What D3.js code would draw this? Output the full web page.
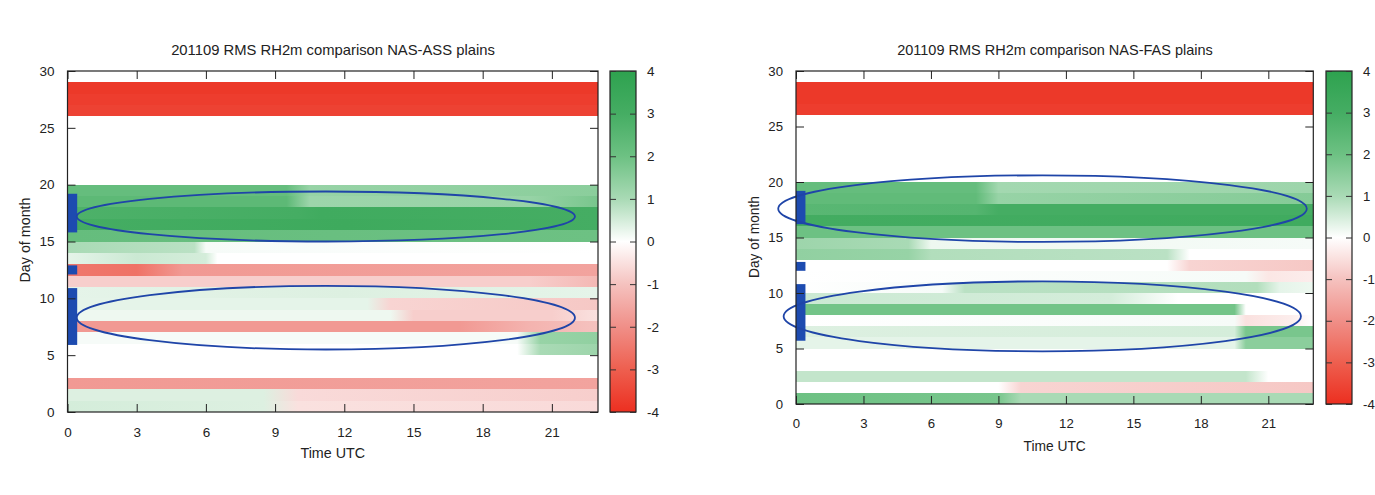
<!DOCTYPE html>
<html>
<head>
<meta charset="utf-8">
<script src="https://cdn.jsdelivr.net/npm/d3@7"></script>
<style>
  html, body { margin: 0; padding: 0; background: #fff; overflow: hidden; }
  svg { display: block; }
  text { font-family: "Liberation Sans", Arial, Helvetica, sans-serif; fill: #222; }
</style>
</head>
<body>
<svg id="chart" width="1375" height="495"></svg>
<script>
// tick labels
var hourTicks = [0, 3, 6, 9, 12, 15, 18, 21];
var dayTicks = [0, 5, 10, 15, 20, 25, 30];
var cbTicks = [-4, -3, -2, -1, 0, 1, 2, 3, 4];

var titles = ["201109 RMS RH2m comparison NAS-ASS plains", "201109 RMS RH2m comparison NAS-FAS plains"];

// each row = one day (cell from day to day+1), values read as [hour, value] along the row
var assRows = [
  {day: 28, v: [[0, -3.8], [23, -3.8]]},
  {day: 27, v: [[0, -3.7], [23, -3.7]]},
  {day: 26, v: [[0, -3.6], [23, -3.6]]},
  {day: 19, v: [[0, 2.2], [9.5, 2.2], [10.5, 1.3], [23, 1.5]]},
  {day: 18, v: [[0, 2.4], [9.5, 2.4], [10.5, 1.2], [20, 1.3], [23, 1.8]]},
  {day: 17, v: [[0, 2.8], [10, 3.0], [11, 3.2], [23, 3.0]]},
  {day: 16, v: [[0, 3.0], [12, 3.3], [23, 3.0]]},
  {day: 15, v: [[0, 2.2], [23, 2.0]]},
  {day: 14, v: [[0, 1.0], [5.5, 0.8], [6, 0.1], [23, 0]]},
  {day: 13, v: [[0, 0.3], [3, 0.6], [6, 0.5], [6.5, 0], [23, 0]]},
  {day: 12, v: [[0, -2.5], [3, -2.6], [5, -1.8], [23, -1.6]]},
  {day: 11, v: [[0, -0.8], [20, -0.8], [23, -1.2]]},
  {day: 10, v: [[0, 0.3], [12, 0.4], [23, 0.3]]},
  {day: 9, v: [[0, 0.3], [13, 0.3], [14, -0.7], [23, -0.9]]},
  {day: 8, v: [[0, 0.2], [14, 0.2], [15, -0.8], [21, -0.8], [23, -0.5]]},
  {day: 7, v: [[0, -1.8], [17, -1.8], [20, -1.3], [23, -1.0]]},
  {day: 6, v: [[0, 0.1], [19.5, 0.1], [20.5, 1.3], [23, 1.4]]},
  {day: 5, v: [[0, 0], [19.5, 0], [20.5, 1.0], [23, 1.2]]},
  {day: 2, v: [[0, -1.8], [23, -1.6]]},
  {day: 1, v: [[0, 0.4], [8.5, 0.4], [10, -0.6], [23, -0.8]]},
  {day: 0, v: [[0, 0.5], [8.5, 0.4], [10, -0.5], [23, -0.6]]}
];

var fasRows = [
  {day: 28, v: [[0, -3.8], [23, -3.8]]},
  {day: 27, v: [[0, -3.8], [23, -3.8]]},
  {day: 26, v: [[0, -3.7], [23, -3.7]]},
  {day: 19, v: [[0, 2.2], [8, 2.2], [9, 1.1], [23, 1.2]]},
  {day: 18, v: [[0, 2.3], [8, 2.3], [9, 1.3], [23, 1.6]]},
  {day: 17, v: [[0, 2.5], [8, 2.6], [9, 3.0], [23, 3.0]]},
  {day: 16, v: [[0, 3.1], [23, 3.2]]},
  {day: 15, v: [[0, 2.0], [23, 2.0]]},
  {day: 14, v: [[0, 1.2], [5, 1.0], [6, 0.2], [23, 0.1]]},
  {day: 13, v: [[0, 1.4], [5, 1.3], [6, 0.9], [16.5, 0.8], [17.5, 0], [23, 0]]},
  {day: 12, v: [[0, 0], [16.5, 0], [17.5, -0.7], [23, -0.9]]},
  {day: 11, v: [[0, 0], [20, 0.1], [21, -0.4], [23, -0.3]]},
  {day: 10, v: [[0, 0], [6.5, 0.1], [7.5, 0.8], [20.5, 0.9], [21.5, 0.3], [23, 0.2]]},
  {day: 9, v: [[0, 0.6], [14, 0.5], [17, 0], [23, 0]]},
  {day: 8, v: [[0, 1.9], [19.5, 1.9], [20, 0], [23, 0]]},
  {day: 7, v: [[0, 0], [19.5, 0.1], [20, -0.5], [22, -0.3], [23, 0]]},
  {day: 6, v: [[0, 0.4], [19.5, 0.5], [20, 1.8], [23, 1.8]]},
  {day: 5, v: [[0, 0.3], [19.5, 0.3], [20, 1.5], [23, 1.5]]},
  {day: 2, v: [[0, 0.7], [20, 0.7], [21, 0], [23, 0]]},
  {day: 1, v: [[0, 0], [9, 0], [10, -0.7], [23, -0.9]]},
  {day: 0, v: [[0, 2.0], [9, 1.8], [10, 1.0], [23, 1.0]]}
];

// highlight ellipses (hour/day units) and blue day markers [from, to]
var assEllipses = [{cx: 11.2, cy: 17.2, rx: 10.8, ry: 2.2}, {cx: 11.2, cy: 8.3, rx: 10.8, ry: 2.8}];
var fasEllipses = [{cx: 10.96, cy: 17.6, rx: 11.75, ry: 3.0}, {cx: 10.95, cy: 7.9, rx: 11.5, ry: 3.15}];
var assMarks = [[15.8, 19.2], [12.1, 12.9], [5.9, 10.9]];
var fasMarks = [[16.2, 19.2], [12.0, 12.8], [5.7, 10.8]];

var color = d3.scaleLinear()
  .domain([-4, -3, -2, -1, 0, 1, 2, 3, 4])
  .range(["#ec2f20", "#ee5f4f", "#f08f88", "#f5c2bf", "#ffffff", "#a9dab5", "#6dc183", "#45ad63", "#2ea24f"])
  .clamp(true);

var svg = d3.select("#chart");
var defs = svg.append("defs");

var panels = [
  {id: "ass", rows: assRows, ell: assEllipses, marks: assMarks, title: titles[0],
   x0: 67.5, x1: 598, y0: 71, y1: 412, cbX: 610, cbW: 26,
   titleX: 333, titleY: 55, xLabY: 458, yLabX: 30, yLabY: 240, fs: 13.5, fsLab: 14.3, fsTitle: 14.8},
  {id: "fas", rows: fasRows, ell: fasEllipses, marks: fasMarks, title: titles[1],
   x0: 796, x1: 1313.3, y0: 71, y1: 404, cbX: 1326, cbW: 26,
   titleX: 1055, titleY: 55, xLabY: 451, yLabX: 759, yLabY: 237, fs: 13.2, fsLab: 13.8, fsTitle: 14.5}
];

panels.forEach(renderPanel);

function renderPanel(p) {
  var x = d3.scaleLinear().domain([0, 23]).range([p.x0, p.x1]);
  var y = d3.scaleLinear().domain([0, 30]).range([p.y1, p.y0]);
  var g = svg.append("g").attr("class", "panel-" + p.id);

  // heatmap rows, smooth along the hour axis
  p.rows.forEach(function(r) {
    var gid = "grad-" + p.id + "-" + r.day;
    var lg = defs.append("linearGradient")
      .attr("id", gid)
      .attr("gradientUnits", "userSpaceOnUse")
      .attr("x1", x(0)).attr("x2", x(23))
      .attr("y1", 0).attr("y2", 0);
    r.v.forEach(function(s) {
      lg.append("stop")
        .attr("offset", (s[0] / 23))
        .attr("stop-color", color(s[1]));
    });
    g.append("rect")
      .attr("x", x(0))
      .attr("y", Math.round(y(r.day + 1)))
      .attr("width", x(23) - x(0))
      .attr("height", Math.round(y(r.day)) - Math.round(y(r.day + 1)))
      .attr("shape-rendering", "crispEdges")
      .attr("fill", "url(#" + gid + ")");
  });

  // blue day markers
  g.selectAll(".mark")
    .data(p.marks)
    .enter().append("rect")
    .attr("class", "mark")
    .attr("x", x(0))
    .attr("y", d => y(d[1]))
    .attr("width", x(0.42) - x(0))
    .attr("height", d => y(d[0]) - y(d[1]))
    .attr("fill", "#1d4bb0");

  // ellipses
  g.selectAll(".ell")
    .data(p.ell)
    .enter().append("ellipse")
    .attr("class", "ell")
    .attr("cx", d => x(d.cx))
    .attr("cy", d => y(d.cy))
    .attr("rx", d => x(d.rx) - x(0))
    .attr("ry", d => y(0) - y(d.ry))
    .attr("fill", "none")
    .attr("stroke", "#1f45a8")
    .attr("stroke-width", 1.8);

  // axes, gnuplot style ticks pointing inward
  var ax = g.append("g").attr("transform", `translate(0,${p.y1})`)
    .call(d3.axisBottom(x).tickValues(hourTicks).tickSize(-8).tickSizeOuter(0).tickPadding(15));
  var axTop = g.append("g").attr("transform", `translate(0,${p.y0})`)
    .call(d3.axisTop(x).tickValues(hourTicks).tickSize(-8).tickSizeOuter(0).tickFormat(""));
  var ay = g.append("g").attr("transform", `translate(${p.x0},0)`)
    .call(d3.axisLeft(y).tickValues(dayTicks).tickSize(-8).tickSizeOuter(0).tickPadding(13));
  var ayR = g.append("g").attr("transform", `translate(${p.x1},0)`)
    .call(d3.axisRight(y).tickValues(dayTicks).tickSize(-8).tickSizeOuter(0).tickFormat(""));

  [ax, axTop, ay, ayR].forEach(function(a) {
    a.select(".domain").remove();
    a.selectAll("line").attr("stroke", "#222").attr("stroke-width", 1);
    a.selectAll("text").style("font-size", p.fs + "px").attr("fill", "#222");
  });

  g.append("rect")
    .attr("x", p.x0).attr("y", p.y0)
    .attr("width", p.x1 - p.x0).attr("height", p.y1 - p.y0)
    .attr("fill", "none").attr("stroke", "#222").attr("stroke-width", 1.2);

  // colour box
  var cy = d3.scaleLinear().domain([-4, 4]).range([p.y1, p.y0]);
  var cbId = "cb-" + p.id;
  var cg = defs.append("linearGradient")
    .attr("id", cbId)
    .attr("x1", 0).attr("x2", 0).attr("y1", 1).attr("y2", 0);
  cbTicks.forEach(function(t) {
    cg.append("stop").attr("offset", (t + 4) / 8).attr("stop-color", color(t));
  });
  g.append("rect")
    .attr("x", p.cbX).attr("y", p.y0)
    .attr("width", p.cbW).attr("height", p.y1 - p.y0)
    .attr("fill", "url(#" + cbId + ")")
    .attr("stroke", "#222").attr("stroke-width", 1.2);

  var cbL = g.append("g").attr("transform", `translate(${p.cbX},0)`)
    .call(d3.axisLeft(cy).tickValues(cbTicks).tickSize(-6).tickSizeOuter(0).tickFormat(""));
  var cbR = g.append("g").attr("transform", `translate(${p.cbX + p.cbW},0)`)
    .call(d3.axisRight(cy).tickValues(cbTicks).tickSize(-6).tickSizeOuter(0).tickPadding(11)
      .tickFormat(d => d < 0 ? "-" + Math.abs(d) : d));
  [cbL, cbR].forEach(function(a) {
    a.select(".domain").remove();
    a.selectAll("line").attr("stroke", "#333").attr("stroke-width", 1);
    a.selectAll("text").style("font-size", p.fs + "px").attr("fill", "#222");
  });

  // titles and labels
  g.append("text")
    .attr("x", p.titleX).attr("y", p.titleY)
    .attr("text-anchor", "middle")
    .style("font-size", p.fsTitle + "px")
    .text(p.title);

  g.append("text")
    .attr("x", (p.x0 + p.x1) / 2).attr("y", p.xLabY)
    .attr("text-anchor", "middle")
    .style("font-size", p.fsLab + "px")
    .text("Time UTC");

  g.append("text")
    .attr("transform", `translate(${p.yLabX},${p.yLabY}) rotate(-90)`)
    .attr("text-anchor", "middle")
    .style("font-size", p.fsLab + "px")
    .text("Day of month");
}
</script>
</body>
</html>
